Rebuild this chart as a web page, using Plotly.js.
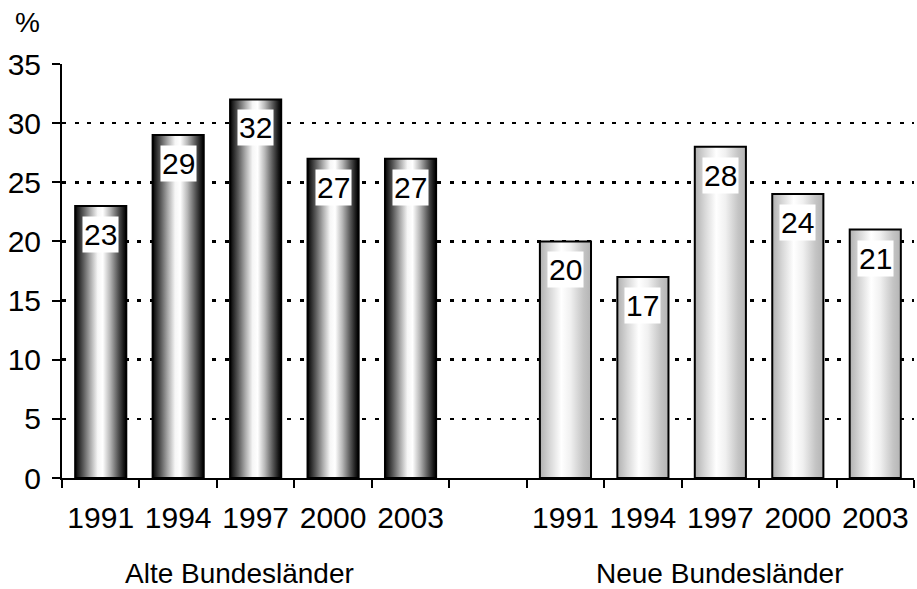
<!DOCTYPE html>
<html>
<head>
<meta charset="utf-8">
<script src="https://cdn.plot.ly/plotly-3.0.1.min.js"></script>
<style>
  html, body { margin: 0; padding: 0; background: #fff; }
  #chart { width: 917px; height: 589px; }
</style>
</head>
<body>
<div id="chart"></div>
<script>
// Survey years, shown once per region
const years = ['1991', '1994', '1997', '2000', '2003'];
// Share in percent, old federal states (West)
const alteValues = [23, 29, 32, 27, 27];
// Share in percent, new federal states (East)
const neueValues = [20, 17, 28, 24, 21];
const groupNames = ['Alte Bundesländer', 'Neue Bundesländer'];
const yTicks = [0, 5, 10, 15, 20, 25, 30, 35];

// Slot positions on the category axis: five slots, one empty slot, five slots
const alteX = years.map((_, i) => i);
const neueX = years.map((_, i) => i + years.length + 1);
const slotCount = years.length * 2 + 1;
const boundaries = Array.from({ length: slotCount + 1 }, (_, i) => i - 0.5);

const FONT = '"Liberation Sans", Arial, sans-serif';
const NUM_SIZE = 30;

const traces = [
  {
    type: 'bar', x: alteX, y: alteValues, width: 0.66,
    marker: { color: '#808080', line: { color: '#000', width: 2 } },
    hoverinfo: 'skip'
  },
  {
    type: 'bar', x: neueX, y: neueValues, width: 0.66,
    marker: { color: '#d8d8d8', line: { color: '#000', width: 2 } },
    hoverinfo: 'skip'
  }
];

// Value labels on white boxes just below each bar top
const valueLabels = [];
[[alteX, alteValues], [neueX, neueValues]].forEach(([xs, vs]) => {
  xs.forEach((x, i) => {
    valueLabels.push({
      x: x, y: vs[i], xref: 'x', yref: 'y',
      text: String(vs[i]), showarrow: false,
      yanchor: 'top', yshift: -10,
      bgcolor: '#ffffff', borderpad: 1,
      font: { family: FONT, size: NUM_SIZE, color: '#000' }
    });
  });
});

const groupLabels = [
  { x: 2, text: groupNames[0], xshift: -16 },
  { x: 8, text: groupNames[1], xshift: 0 }
].map(g => ({
  x: g.x, xref: 'x', y: -0.23, yref: 'paper', yanchor: 'middle',
  text: g.text, showarrow: false, xshift: g.xshift,
  font: { family: FONT, size: 28, color: '#000' }
}));

const unitLabel = {
  x: -0.041, xref: 'paper', y: 1.101, yref: 'paper',
  xanchor: 'center', yanchor: 'middle',
  text: '%', showarrow: false,
  font: { family: FONT, size: 28, color: '#000' }
};

const layout = {
  width: 917, height: 589,
  margin: { l: 62, r: 3, t: 64, b: 111, pad: 0 },
  paper_bgcolor: '#fff', plot_bgcolor: '#fff',
  showlegend: false,
  font: { family: FONT, size: NUM_SIZE, color: '#000' },
  xaxis: {
    range: [-0.5, slotCount - 0.5],
    tickmode: 'array',
    tickvals: alteX.concat(neueX),
    ticktext: years.concat(years),
    ticks: '', showgrid: false, zeroline: false,
    showline: true, linecolor: '#000', linewidth: 2,
    ticklabelstandoff: 12,
    tickfont: { family: FONT, size: NUM_SIZE, color: '#000' },
    minor: {
      tickmode: 'array', tickvals: boundaries,
      ticks: 'outside', ticklen: 8, tickwidth: 2, tickcolor: '#000',
      showgrid: false
    },
    fixedrange: true
  },
  yaxis: {
    range: [0, 35],
    tickmode: 'array', tickvals: yTicks,
    ticks: 'outside', ticklen: 8, tickwidth: 2, tickcolor: '#000',
    ticklabelstandoff: 5,
    showline: true, linecolor: '#000', linewidth: 2,
    showgrid: true, gridcolor: '#000', gridwidth: 2.5, griddash: '4px,8.5px',
    zeroline: false,
    tickfont: { family: FONT, size: NUM_SIZE, color: '#000' },
    fixedrange: true
  },
  annotations: valueLabels.concat(groupLabels, [unitLabel])
};

// Horizontal cylinder-style shading for the bar faces
const shading = {
  gradDark: [
    [0, '#000000'], [0.05, '#1e1e1e'], [0.16, '#5a5a5a'], [0.3, '#ababab'],
    [0.44, '#f6f6f6'], [0.54, '#ffffff'], [0.68, '#b8b8b8'], [0.84, '#555555'],
    [0.95, '#151515'], [1, '#000000']
  ],
  gradLight: [
    [0, '#b0b0b0'], [0.2, '#d8d8d8'], [0.42, '#ffffff'],
    [0.6, '#f0f0f0'], [0.85, '#c4c4c4'], [1, '#b4b4b4']
  ]
};

Plotly.newPlot('chart', traces, layout, { staticPlot: true }).then(gd => {
  const NS = 'http://www.w3.org/2000/svg';
  const svg = gd.querySelector('.main-svg');
  let defs = svg.querySelector('defs');
  if (!defs) { defs = document.createElementNS(NS, 'defs'); svg.insertBefore(defs, svg.firstChild); }
  Object.entries(shading).forEach(([id, stops]) => {
    const lg = document.createElementNS(NS, 'linearGradient');
    lg.setAttribute('id', id);
    lg.setAttribute('x1', '0'); lg.setAttribute('x2', '1');
    lg.setAttribute('y1', '0'); lg.setAttribute('y2', '0');
    stops.forEach(([off, col]) => {
      const s = document.createElementNS(NS, 'stop');
      s.setAttribute('offset', off);
      s.setAttribute('stop-color', col);
      lg.appendChild(s);
    });
    defs.appendChild(lg);
  });
  const barTraces = gd.querySelectorAll('.trace.bars');
  const ids = ['gradDark', 'gradLight'];
  barTraces.forEach((t, k) => {
    t.querySelectorAll('.point path').forEach(p => {
      p.style.fill = 'url(#' + ids[k] + ')';
    });
  });
});
</script>
</body>
</html>
